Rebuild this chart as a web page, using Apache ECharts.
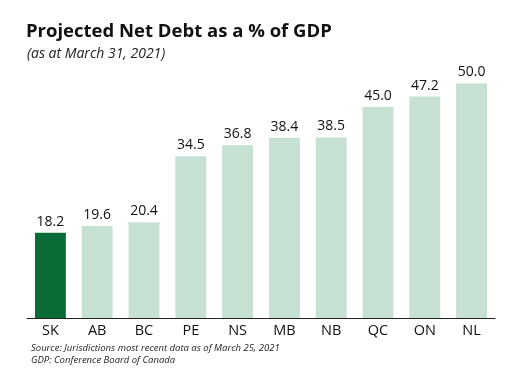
<!DOCTYPE html>
<html>
<head>
<meta charset="utf-8">
<script src="https://cdn.jsdelivr.net/npm/echarts@6/dist/echarts.min.js"></script>
<style>
  html, body { margin: 0; padding: 0; background: #fff; }
  #chart { width: 512px; height: 376px; }
</style>
</head>
<body>
<div id="chart"></div>
<script>
const provinces = ['SK', 'AB', 'BC', 'PE', 'NS', 'MB', 'NB', 'QC', 'ON', 'NL'];
const netDebt = [18.2, 19.6, 20.4, 34.5, 36.8, 38.4, 38.5, 45.0, 47.2, 50.0];
const highlight = 'SK';

const chart = echarts.init(document.getElementById('chart'));
const font = '"Open Sans", "Noto Sans", sans-serif';

chart.setOption({
  animation: false,
  title: [
    {
      text: 'Projected Net Debt as a % of GDP',
      left: 21, top: 17,
      textStyle: { fontFamily: font, fontSize: 18.5, fontWeight: 'bold', color: '#111' }
    },
    {
      text: '(as at March 31, 2021)',
      left: 22, top: 42,
      textStyle: { fontFamily: font, fontSize: 14, fontStyle: 'italic', fontWeight: 'normal', color: '#222' }
    },
    {
      text: 'Source: Jurisdictions most recent data as of March 25, 2021\nGDP: Conference Board of Canada',
      left: 26, top: 337,
      textStyle: { fontFamily: font, fontSize: 9.5, fontStyle: 'italic', fontWeight: 'normal', color: '#222', lineHeight: 12 }
    }
  ],
  grid: { left: 27, right: 17, top: 60, bottom: 58 },
  xAxis: {
    type: 'category',
    data: provinces,
    axisLine: { lineStyle: { color: '#222', width: 1 } },
    axisTick: { show: false },
    axisLabel: { fontFamily: font, fontSize: 14.5, color: '#111', margin: 5 }
  },
  yAxis: {
    type: 'value',
    min: 0, max: 55,
    show: false,
    splitLine: { show: false }
  },
  series: [{
    type: 'bar',
    barWidth: '66%',
    data: netDebt.map((v, i) => ({
      value: v,
      itemStyle: { color: provinces[i] === highlight ? '#0b6b36' : '#c6e0d2' }
    })),
    label: {
      show: true,
      position: 'top',
      distance: 4,
      fontFamily: font,
      fontSize: 14,
      color: '#111',
      formatter: p => p.value.toFixed(1)
    }
  }]
});
</script>
</body>
</html>
